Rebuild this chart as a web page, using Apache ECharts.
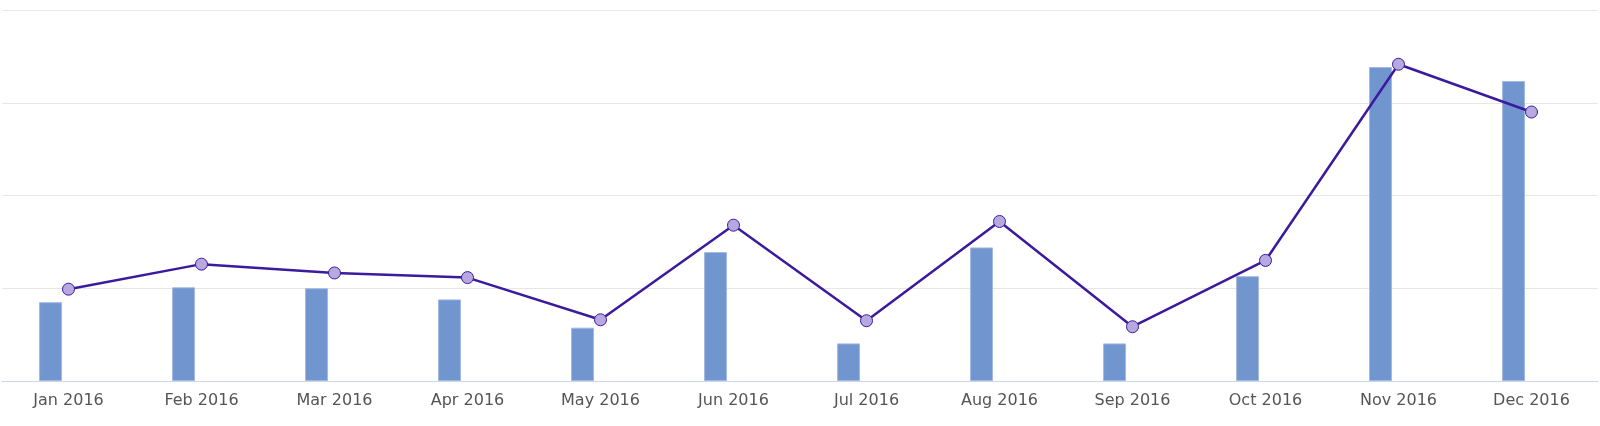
<!DOCTYPE html>
<html>
<head>
<meta charset="utf-8">
<script src="https://cdn.jsdelivr.net/npm/echarts@6/dist/echarts.min.js"></script>
<style>
html,body{margin:0;padding:0;background:#fff;}
#chart{width:1600px;height:426px;}
</style>
</head>
<body>
<div id="chart"></div>
<script>
const categories = ['Jan 2016','Feb 2016','Mar 2016','Apr 2016','May 2016','Jun 2016','Jul 2016','Aug 2016','Sep 2016','Oct 2016','Nov 2016','Dec 2016'];
const barValues = [0.85, 1.01, 1.00, 0.88, 0.575, 1.39, 0.405, 1.44, 0.405, 1.13, 3.385, 3.235];
const lineValues = [0.99, 1.26, 1.165, 1.115, 0.66, 1.68, 0.65, 1.72, 0.585, 1.30, 3.415, 2.90];
const emptyBar = categories.map(() => '-');

const chart = echarts.init(document.getElementById('chart'));
chart.setOption({
  animation: false,
  grid: {left: 2, right: 2, top: 10, bottom: 45, containLabel: false},
  xAxis: {
    type: 'category',
    data: categories,
    boundaryGap: true,
    axisLine: {lineStyle: {color: '#ccd6eb', width: 1}},
    axisTick: {show: false},
    axisLabel: {color: '#555', fontSize: 16, fontFamily: 'DejaVu Sans', margin: 12}
  },
  yAxis: {
    type: 'value',
    min: 0, max: 4, interval: 1,
    axisLabel: {show: false},
    axisLine: {show: false},
    axisTick: {show: false},
    splitLine: {lineStyle: {color: '#e6e6e6', width: 1}}
  },
  series: [
    {
      type: 'bar',
      data: barValues,
      barWidth: 23,
      barGap: '56%',
      itemStyle: {color: '#7195cf', borderColor: '#a3b9e2', borderWidth: 1}
    },
    {
      type: 'bar',
      data: emptyBar,
      barWidth: 23,
      barGap: '56%'
    },
    {
      type: 'line',
      data: lineValues,
      symbol: 'circle',
      symbolSize: 12,
      lineStyle: {color: '#3b1a9e', width: 2.5},
      itemStyle: {color: '#b8a8e0', borderColor: '#3b1a9e', borderWidth: 1}
    }
  ]
});
</script>
</body>
</html>
